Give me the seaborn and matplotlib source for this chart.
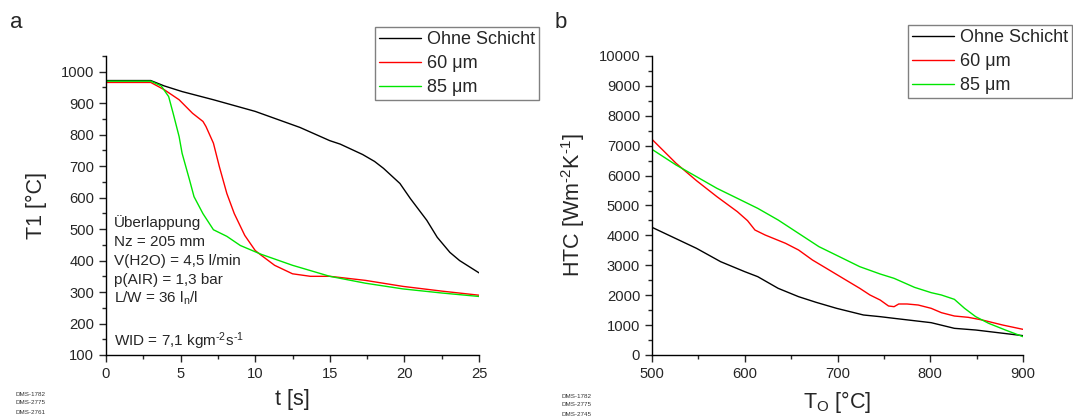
import numpy as np
import pandas as pd
import matplotlib
matplotlib.use("Agg")
import matplotlib.pyplot as plt
import seaborn as sns
from matplotlib.ticker import MultipleLocator

sns.set_style("ticks")
plt.rcParams['font.family'] = ['Liberation Sans', 'DejaVu Sans']
plt.rcParams['mathtext.fontset'] = 'custom'
plt.rcParams['mathtext.rm'] = 'Liberation Sans'
plt.rcParams['mathtext.it'] = 'Liberation Sans'
plt.rcParams['mathtext.default'] = 'regular'

series_names = ["Ohne Schicht", "60 μm", "85 μm"]
colors = ["#000000", "#ff0000", "#00e600"]

# Panel a: T1 vs t
t_ohne = [0, 1, 2, 3, 3.9, 5.1, 7.2, 10, 13, 15, 15.7, 17.2, 18.0, 18.6, 19.7, 20.4, 21.5, 22.2, 23.05, 23.7, 24.4, 25]
T_ohne = [972, 972, 972, 972, 955, 937, 911, 874, 823, 781, 770, 737, 715, 693, 645, 597, 528, 474, 426, 400, 379, 361]
t_60 = [0, 1, 2, 3, 3.9, 4.9, 5.8, 6.5, 6.7, 7.2, 7.6, 8.1, 8.6, 9.3, 10, 10.4, 11.3, 12.5, 13.7, 15, 17.4, 19.9, 22.5, 25]
T_60 = [966, 966, 966, 966, 943, 911, 868, 842, 826, 773, 698, 613, 549, 480, 432, 417, 385, 358, 350, 350, 337, 318, 303, 290]
t_85 = [0, 1, 2, 3, 3.7, 4.2, 4.5, 4.9, 5.1, 5.6, 5.9, 6.5, 7.2, 8.1, 9.0, 10.4, 12.5, 15, 17.4, 19.9, 22.5, 25]
T_85 = [970, 970, 970, 970, 955, 921, 868, 794, 741, 656, 603, 549, 498, 477, 448, 420, 385, 350, 328, 310, 297, 286]

# Panel b: HTC vs T_O
To_ohne = [500, 548, 574, 600, 614, 636, 658, 677, 699, 728, 746, 761, 801, 826, 849, 900]
H_ohne = [4270, 3567, 3121, 2787, 2620, 2230, 1951, 1761, 1561, 1338, 1282, 1226, 1081, 892, 836, 647]
To_60 = [500, 526, 548, 570, 592, 603, 611, 622, 644, 658, 673, 688, 709, 724, 735, 746, 755, 761, 766, 775, 787, 801, 812, 826, 841, 856, 878, 900]
H_60 = [7213, 6410, 5830, 5295, 4794, 4493, 4180, 4013, 3735, 3512, 3177, 2899, 2508, 2230, 2007, 1839, 1639, 1616, 1706, 1706, 1672, 1561, 1416, 1304, 1260, 1171, 1003, 858]
To_85 = [500, 526, 548, 570, 592, 614, 636, 658, 680, 702, 724, 746, 761, 783, 801, 812, 826, 837, 849, 863, 881, 900]
H_85 = [6878, 6354, 5964, 5574, 5240, 4905, 4515, 4069, 3623, 3289, 2954, 2709, 2564, 2263, 2085, 2007, 1862, 1561, 1282, 1059, 836, 613]

annot_lines = ["Überlappung", "Nz = 205 mm", "V(H2O) = 4,5 l/min",
               "p(AIR) = 1,3 bar", "L/W = 36 l$_{n}$/l"]
wid_text = "WID = 7,1 kgm$^{‐2}$s$^{‐1}$"
dms_a = ["DMS-1782", "DMS-2775", "DMS-2761"]
dms_b = ["DMS-1782", "DMS-2775", "DMS-2745"]

df_a = pd.concat([
    pd.DataFrame({"x": t_ohne, "y": T_ohne, "s": series_names[0]}),
    pd.DataFrame({"x": t_60, "y": T_60, "s": series_names[1]}),
    pd.DataFrame({"x": t_85, "y": T_85, "s": series_names[2]}),
], ignore_index=True)
df_b = pd.concat([
    pd.DataFrame({"x": To_ohne, "y": H_ohne, "s": series_names[0]}),
    pd.DataFrame({"x": To_60, "y": H_60, "s": series_names[1]}),
    pd.DataFrame({"x": To_85, "y": H_85, "s": series_names[2]}),
], ignore_index=True)

W, H = 1073, 416
fig = plt.figure(figsize=(W / 100, H / 100), dpi=100)
ax_a = fig.add_axes([106 / W, 1 - 355 / H, (479 - 106) / W, (355 - 56) / H])
ax_b = fig.add_axes([652 / W, 1 - 355 / H, (1023 - 652) / W, (355 - 56) / H])

pal = dict(zip(series_names, colors))
for ax, df in [(ax_a, df_a), (ax_b, df_b)]:
    sns.lineplot(data=df, x="x", y="y", hue="s", palette=pal, ax=ax,
                 linewidth=1.0, estimator=None, sort=False, legend=True)
    sns.despine(ax=ax)
    ax.tick_params(axis='both', which='major', length=5, width=1, labelsize=10.6, direction='out')
    ax.tick_params(axis='both', which='minor', length=3, width=1, direction='out')
    for sp in ["left", "bottom"]:
        ax.spines[sp].set_linewidth(1.0)
        ax.spines[sp].set_color("black")

ax_a.set_xlim(0, 25)
ax_a.set_ylim(100, 1050)
ax_a.xaxis.set_major_locator(MultipleLocator(5))
ax_a.xaxis.set_minor_locator(MultipleLocator(2.5))
ax_a.yaxis.set_major_locator(MultipleLocator(100))
ax_a.yaxis.set_minor_locator(MultipleLocator(50))
ax_a.set_xlabel("t [s]", fontsize=15.5, labelpad=6)
ax_a.set_ylabel("T1 [°C]", fontsize=15.5, labelpad=10)

ax_b.set_xlim(500, 900)
ax_b.set_ylim(0, 10000)
ax_b.xaxis.set_major_locator(MultipleLocator(100))
ax_b.xaxis.set_minor_locator(MultipleLocator(50))
ax_b.yaxis.set_major_locator(MultipleLocator(1000))
ax_b.yaxis.set_minor_locator(MultipleLocator(500))
ax_b.set_xlabel("T$_{O}$ [°C]", fontsize=15.5, labelpad=6)
ax_b.set_ylabel("HTC [Wm$^{‐2}$K$^{‐1}$]", fontsize=15.5, labelpad=8)

for ax, anchor in [(ax_a, (539 / W, 1 - 27 / H)), (ax_b, (1072 / W, 1 - 25 / H))]:
    ax.get_legend().remove()
    handles, labels = ax.get_legend_handles_labels()
    leg = fig.legend(handles, labels, loc="upper right", bbox_to_anchor=anchor,
                     bbox_transform=fig.transFigure, fontsize=13.0, frameon=True,
                     fancybox=False, edgecolor="#808080", framealpha=1,
                     handlelength=2.3, handletextpad=0.35, labelspacing=0.4,
                     borderpad=0.22, borderaxespad=0)
    leg.get_frame().set_linewidth(1.0)
    for ln in leg.get_lines():
        ln.set_linewidth(1.0)

# Annotations in panel a
for i, line in enumerate(annot_lines):
    ax_a.text(0.021, 0.443 - i * 0.0635, line, transform=ax_a.transAxes,
              fontsize=11, va="center", ha="left")
ax_a.text(0.021, 0.047, wid_text, transform=ax_a.transAxes,
          fontsize=11, va="center", ha="left")

# Panel labels
fig.text(10 / W, 1 - 22 / H, "a", fontsize=16, va="center", ha="left")
fig.text(555 / W, 1 - 22 / H, "b", fontsize=16, va="center", ha="left")

# DMS labels
for i, s in enumerate(dms_a):
    fig.text(16 / W, 1 - (394 + 9 * i) / H, s, fontsize=4.5, va="center", ha="left", color="#333333")
for i, s in enumerate(dms_b):
    fig.text(561 / W, 1 - (396 + 9 * i) / H, s, fontsize=4.5, va="center", ha="left", color="#333333")

fig.savefig("out.png", dpi=100)
